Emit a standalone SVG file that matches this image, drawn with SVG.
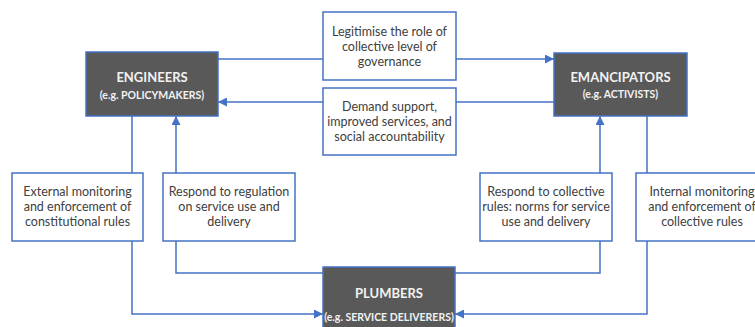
<svg xmlns="http://www.w3.org/2000/svg" width="755" height="327" viewBox="0 0 755 327">
<defs>
<marker id="ah" viewBox="0 0 10 10" refX="10" refY="5" markerWidth="9" markerHeight="9" markerUnits="userSpaceOnUse" orient="auto">
<path d="M0,0 L10,5 L0,10 z" fill="#4472C4"/>
</marker>
<style>
.conn{fill:none;stroke:#4472C4;stroke-width:1.5;marker-end:url(#ah)}
.dark{fill:#595959;stroke:#4472C4;stroke-width:1.5}
.lbl{fill:#fff;stroke:#4472C4;stroke-width:1.5}
.t{font-family:Lato,"Open Sans",sans-serif;font-size:12.5px;fill:#404040;text-anchor:middle}
.h{font-family:Lato,"Open Sans",sans-serif;font-size:13px;font-weight:bold;fill:#f2f2f2;text-anchor:middle}
.s{font-family:Lato,"Open Sans",sans-serif;font-size:10.5px;font-weight:bold;fill:#f2f2f2;text-anchor:middle}
</style>
</defs>
<rect width="755" height="327" fill="#fff"/>
<g id="connectors">
<path class="conn" d="M218,59 H554"/>
<path class="conn" d="M554,102 H218"/>
<path class="conn" d="M132,116 V314 H323"/>
<path class="conn" d="M323,273 H176 V116"/>
<path class="conn" d="M455,273 H600 V116"/>
<path class="conn" d="M647,116 V314 H455"/>
</g>
<g id="engineers">
<rect class="dark" x="86" y="52" width="132" height="64"/>
<text class="h" x="152" y="82">ENGINEERS</text>
<text class="s" x="152" y="99">(e.g. POLICYMAKERS)</text>
</g>
<g id="emancipators">
<rect class="dark" x="554" y="53" width="133" height="63"/>
<text class="h" x="620.5" y="82">EMANCIPATORS</text>
<text class="s" x="620.5" y="98">(e.g. ACTIVISTS)</text>
</g>
<g id="plumbers">
<rect class="dark" x="323" y="267" width="132" height="62"/>
<text class="h" x="389" y="298">PLUMBERS</text>
<text class="s" x="389" y="321">(e.g. SERVICE DELIVERERS)</text>
</g>
<g id="legitimise">
<rect class="lbl" x="323" y="12" width="133" height="68"/>
<text class="t" x="389.5" y="36">Legitimise the role of</text>
<text class="t" x="389.5" y="51">collective level of</text>
<text class="t" x="389.5" y="66">governance</text>
</g>
<g id="demand">
<rect class="lbl" x="323" y="88" width="133" height="67"/>
<text class="t" x="389.5" y="111">Demand support,</text>
<text class="t" x="389.5" y="126">improved services, and</text>
<text class="t" x="389.5" y="141">social accountability</text>
</g>
<g id="external">
<rect class="lbl" x="12" y="173" width="131" height="68"/>
<text class="t" x="77.5" y="196">External monitoring</text>
<text class="t" x="77.5" y="211">and enforcement of</text>
<text class="t" x="77.5" y="226">constitutional rules</text>
</g>
<g id="respond-regulation">
<rect class="lbl" x="163" y="173" width="132" height="68"/>
<text class="t" x="229" y="196">Respond to regulation</text>
<text class="t" x="229" y="211">on service use and</text>
<text class="t" x="229" y="226">delivery</text>
</g>
<g id="respond-collective">
<rect class="lbl" x="480" y="173" width="132" height="68"/>
<text class="t" x="546" y="196">Respond to collective</text>
<text class="t" x="546" y="211">rules: norms for service</text>
<text class="t" x="546" y="226">use and delivery</text>
</g>
<g id="internal">
<rect class="lbl" x="636" y="173" width="132" height="68"/>
<text class="t" x="702" y="196">Internal monitoring</text>
<text class="t" x="702" y="211">and enforcement of</text>
<text class="t" x="702" y="226">collective rules</text>
</g>
</svg>
